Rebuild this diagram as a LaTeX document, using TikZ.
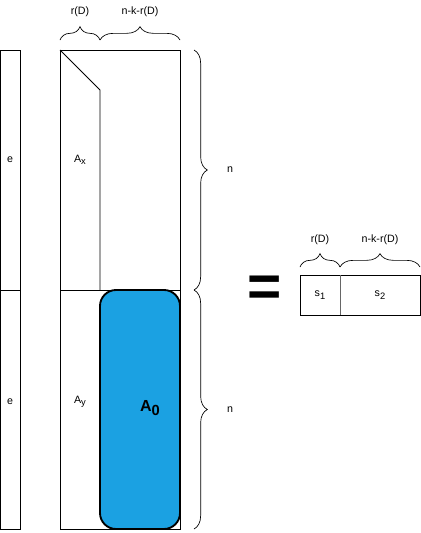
\documentclass[tikz,border=0pt]{standalone}
\usepackage{fontspec}
\setmainfont{Liberation Sans}
\usetikzlibrary{decorations.pathreplacing}
\definecolor{blockblue}{HTML}{1BA1E2}
\newcommand{\lowsub}[1]{\raisebox{-0.45ex}{\fontsize{7}{8}\selectfont #1}}
\begin{document}
\begin{tikzpicture}
    [x=0.75pt,y=-0.75pt,
     cell/.style={draw=black,line width=0.6pt},
     lbl/.style={font=\fontsize{8}{9}\selectfont,inner sep=1pt},
     brc/.style={draw=black,line width=0.5pt,decorate,decoration={brace,amplitude=10pt}}]
  \useasboundingbox (0,0) rectangle (421,533);
  % left column e
  \draw[cell] (0,50) rectangle (20,290);
  \draw[cell] (0,290) rectangle (20,529);
  \node[lbl] (e1) at (10,160) {e};
  \node[lbl] (e2) at (10,402) {e};
  % main matrix
  \draw[cell] (60,50) rectangle (180,290);
  \draw[cell] (60,290) rectangle (180,529);
  \draw[cell] (60,50) -- (100,90) -- (100,290);
  \draw[draw=black,line width=1.4pt,fill=blockblue,rounded corners=12pt]
    (100,290) rectangle (180,529);
  \node[lbl] (Ax) at (80,160) {A\lowsub{x}};
  \node[lbl] (Ay) at (80,402) {A\lowsub{y}};
  \node[font=\fontsize{12}{14}\selectfont\bfseries] (A0) at (150,408)
    {A\raisebox{-0.45ex}{\fontsize{11}{12}\selectfont 0}};
  % braces round the main matrix
  \coordinate (t1) at (60,40);
  \coordinate (t2) at (100,40);
  \coordinate (t3) at (180,40);
  \draw[brc] (t1) -- (t2);
  \draw[brc] (t2) -- (t3);
  \node[lbl] (rD) at (80,12) {r(D)};
  \node[lbl] (nk) at (140,12) {n-k-r(D)};
  \coordinate (r1) at (194,50);
  \coordinate (r2) at (194,290);
  \coordinate (r3) at (194,529);
  \draw[brc] (r1) -- (r2);
  \draw[brc] (r2) -- (r3);
  \node[lbl] (n1) at (230,170) {n};
  \node[lbl] (n2) at (230,410) {n};
  % equals
  \node[font=\fontsize{44}{44}\selectfont\bfseries] (eq) at (265,291) {=};
  % small result row
  \draw[cell] (300,275) rectangle (420,315);
  \draw[draw=black!60,line width=0.6pt] (340,275) -- (340,315);
  \node[lbl] (s1) at (320,295) {s\lowsub{1}};
  \node[lbl] (s2) at (380,295) {s\lowsub{2}};
  \coordinate (u1) at (300,267);
  \coordinate (u2) at (340,267);
  \coordinate (u3) at (420,267);
  \draw[brc] (u1) -- (u2);
  \draw[brc] (u2) -- (u3);
  \node[lbl] (rD2) at (320,240) {r(D)};
  \node[lbl] (nk2) at (380,240) {n-k-r(D)};
\end{tikzpicture}
\end{document}
